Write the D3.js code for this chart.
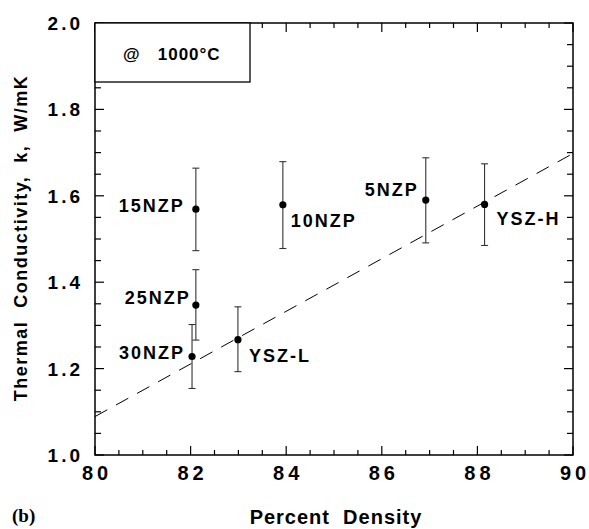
<!DOCTYPE html>
<html><head><meta charset="utf-8">
<script src="https://cdn.jsdelivr.net/npm/d3@7"></script>
<style>body{margin:0;background:#fff}svg{display:block}text{font-family:"Liberation Sans",Arial,sans-serif;font-weight:bold;fill:#000}</style>
</head><body><svg id="c" width="589" height="529"></svg>
<script>
const names = ["15NZP","10NZP","25NZP","30NZP","YSZ-L","5NZP","YSZ-H"];
const density = [82.11, 83.93, 82.11, 82.03, 82.99, 86.92, 88.15];
const conductivity = [1.569, 1.579, 1.347, 1.228, 1.267, 1.590, 1.580];
const errLow = [1.473, 1.478, 1.266, 1.154, 1.193, 1.491, 1.485];
const errHigh = [1.664, 1.679, 1.429, 1.302, 1.343, 1.688, 1.674];
const fitX = [80, 90];
const fitY = [1.089, 1.698];
const xTicks = [80, 82, 84, 86, 88, 90];
const yTicks = [1.0, 1.2, 1.4, 1.6, 1.8, 2.0];
// label placement: [side, dx, dy]
const labelPos = [["end",-13,3],["start",8,22],["end",-7,-1],["end",-9,2],["start",11,22],["end",-9,-4],["start",12,21]];

const svg = d3.select("#c");
const L=95, R=573, T=23, B=455;
const x = d3.scaleLinear().domain([80,90]).range([L,R]);
const y = d3.scaleLinear().domain([1.0,2.0]).range([B,T]);

const minorX = d3.range(80, 90.001, 0.5);
const minorY = d3.range(1.0, 2.0001, 0.05);
const tk = svg.append("g").attr("stroke","#000").attr("stroke-width",1.2);
minorX.forEach(v=>{
  const major = Math.abs(v/2-Math.round(v/2))<1e-6;
  const len = major?9:5;
  tk.append("line").attr("x1",x(v)).attr("x2",x(v)).attr("y1",B).attr("y2",B-len);
  tk.append("line").attr("x1",x(v)).attr("x2",x(v)).attr("y1",T).attr("y2",T+len);
});
minorY.forEach(v=>{
  const major = Math.abs(v*5-Math.round(v*5))<1e-6;
  const len = major?9:6;
  tk.append("line").attr("y1",y(v)).attr("y2",y(v)).attr("x1",L).attr("x2",L+len);
  tk.append("line").attr("y1",y(v)).attr("y2",y(v)).attr("x1",R).attr("x2",R-len);
});
svg.append("rect").attr("x",L).attr("y",T).attr("width",R-L).attr("height",B-T)
  .attr("fill","none").attr("stroke","#000").attr("stroke-width",1.5);

// tick labels
svg.append("g").selectAll("text").data(xTicks).join("text")
  .attr("x",d=>x(d)+2).attr("y",480).attr("text-anchor","middle")
  .attr("font-size",20).attr("letter-spacing",4).text(d=>d);
svg.append("g").selectAll("text").data(yTicks).join("text")
  .attr("x",80).attr("y",d=>y(d)+7).attr("text-anchor","end")
  .attr("font-size",19).attr("letter-spacing",3).attr("dx",3).text(d=>d.toFixed(1));

// axis titles
svg.append("text").attr("x",336).attr("y",524).attr("text-anchor","middle")
  .attr("font-size",20).attr("letter-spacing",1).attr("xml:space","preserve").text("Percent  Density");
svg.append("text").attr("transform","translate(27,238) rotate(-90)").attr("text-anchor","middle")
  .attr("font-size",18).attr("letter-spacing",1.5).attr("xml:space","preserve").text("Thermal  Conductivity,  k,  W/mK");
svg.append("text").attr("x",12).attr("y",522).attr("font-size",19)
  .style("font-family","'Liberation Serif','Times New Roman',serif").text("(b)");

// legend box
svg.append("rect").attr("x",L).attr("y",T).attr("width",155).attr("height",59)
  .attr("fill","#fff").attr("stroke","#000").attr("stroke-width",1.3);
svg.append("text").attr("x",123).attr("y",60).attr("font-size",17).attr("letter-spacing",1).attr("xml:space","preserve").text("@   1000°C");

// fit line
svg.append("line").attr("x1",x(fitX[0])).attr("y1",y(fitY[0])).attr("x2",x(fitX[1])).attr("y2",y(fitY[1]))
  .attr("stroke","#000").attr("stroke-width",1).attr("stroke-dasharray","14,10");

// error bars
const data = names.map((n,i)=>({n,x:density[i],y:conductivity[i],lo:errLow[i],hi:errHigh[i],p:labelPos[i]}));
const eb = svg.append("g").attr("stroke","#333").attr("stroke-width",1.1);
data.forEach(d=>{
  eb.append("line").attr("x1",x(d.x)).attr("x2",x(d.x)).attr("y1",y(d.lo)).attr("y2",y(d.hi));
  [d.lo,d.hi].forEach(v=>eb.append("line").attr("x1",x(d.x)-3.5).attr("x2",x(d.x)+3.5).attr("y1",y(v)).attr("y2",y(v)));
});
svg.append("g").selectAll("circle").data(data).join("circle")
  .attr("cx",d=>x(d.x)).attr("cy",d=>y(d.y)).attr("r",3.6).attr("fill","#000");
svg.append("g").selectAll("text").data(data).join("text")
  .attr("x",d=>x(d.x)+d.p[1]).attr("y",d=>y(d.y)+d.p[2]).attr("text-anchor",d=>d.p[0])
  .attr("font-size",18).attr("letter-spacing",2).attr("dx",d=>d.p[0]==="end"?2:0).text(d=>d.n);
</script></body></html>
